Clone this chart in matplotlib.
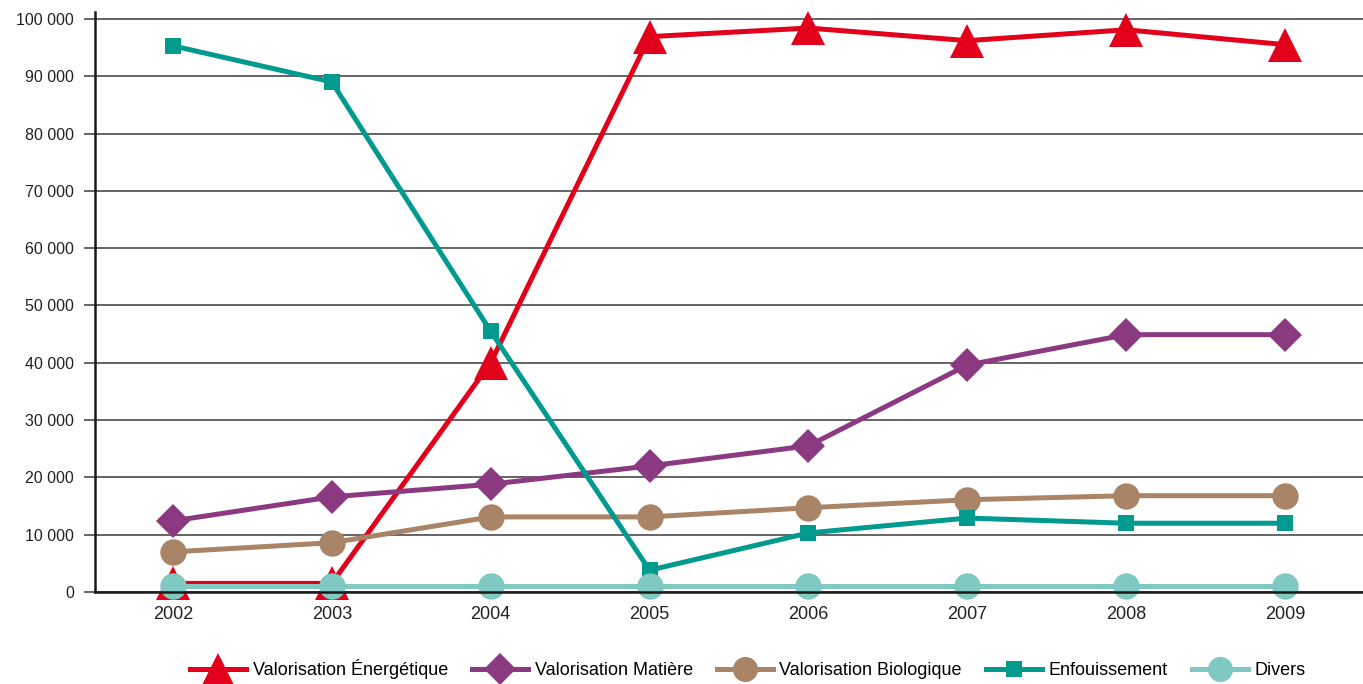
"""
Tonnages par filière de traitement, 2002-2009.
"""

import matplotlib.pyplot as plt
from matplotlib.ticker import FuncFormatter

years = ["2002", "2003", "2004", "2005", "2006", "2007", "2008", "2009"]

energetique = [1500, 1500, 40000, 96900, 98400, 96200, 98100, 95500]
matiere = [12400, 16600, 18800, 22000, 25500, 39600, 44900, 44900]
biologique = [7000, 8600, 13100, 13100, 14700, 16100, 16800, 16800]
enfouissement = [95300, 89000, 45500, 3800, 10300, 12900, 12000, 12000]
divers = [1000, 1000, 1000, 1000, 1000, 1000, 1000, 1000]

series = [
    ("Valorisation Énergétique", energetique, "#E2001A", "^", 24),
    ("Valorisation Matière", matiere, "#8B3A82", "D", 17),
    ("Valorisation Biologique", biologique, "#A98466", "o", 19),
    ("Enfouissement", enfouissement, "#009A8E", "s", 12),
    ("Divers", divers, "#80C8C2", "o", 19),
]

FONT = "Liberation Sans"

fig = plt.figure(figsize=(13.63, 6.84), dpi=100)
ax = fig.add_axes([95 / 1363, 92 / 684, 1 - 95 / 1363, (592 - 12) / 684])

x = range(len(years))

for label, values, color, marker, size in series:
    ax.plot(
        x,
        values,
        color=color,
        linewidth=3.6,
        marker=marker,
        markersize=size,
        markeredgewidth=0,
        label=label,
        clip_on=False,
    )

ax.set_xlim(-0.49, 7.49)
ax.set_ylim(0, 101200)
ax.set_yticks(range(0, 100001, 10000))
ax.yaxis.set_major_formatter(
    FuncFormatter(lambda v, _: f"{int(v):,}".replace(",", " "))
)
ax.set_xticks(list(x))
ax.set_xticklabels(years)

ax.grid(axis="y", color="#3a3a3a", linewidth=1.1)
ax.set_axisbelow(True)

for side in ("top", "right"):
    ax.spines[side].set_visible(False)
for side in ("left", "bottom"):
    ax.spines[side].set_linewidth(1.8)
    ax.spines[side].set_color("#1a1a1a")

ax.tick_params(axis="y", length=8, width=1.1, color="#3a3a3a",
               labelcolor="#222222", pad=7)
ax.tick_params(axis="x", length=0, labelcolor="#222222", pad=10)
for lab in ax.get_yticklabels():
    lab.set_family(FONT)
    lab.set_fontsize(11.5)
for lab in ax.get_xticklabels():
    lab.set_family(FONT)
    lab.set_fontsize(13)

ax.legend(
    loc="center",
    bbox_to_anchor=(0.515, -0.133),
    ncol=5,
    frameon=False,
    prop={"family": FONT, "size": 13},
    handlelength=3.1,
    handletextpad=0.35,
    columnspacing=1.35,
    markerscale=0.95,
)

plt.savefig("out.png", dpi=100)
